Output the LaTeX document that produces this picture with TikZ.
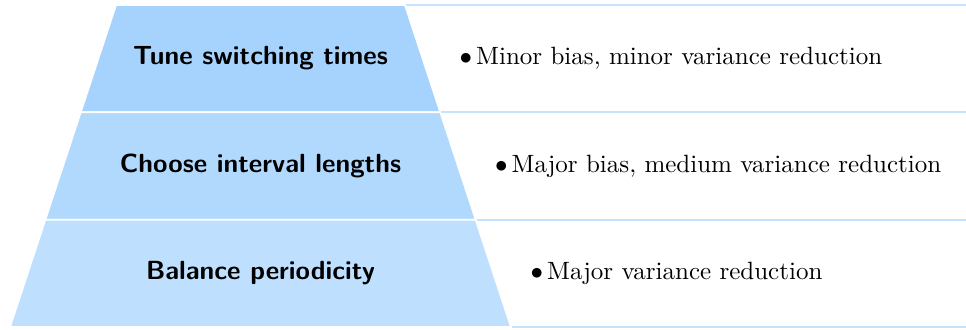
\documentclass[tikz,border=0pt]{standalone}
\usepackage{amssymb}
\definecolor{bandA}{HTML}{A6D3FD}
\definecolor{bandB}{HTML}{B1D9FD}
\definecolor{bandC}{HTML}{BEE0FE}
\definecolor{rule}{HTML}{C6E3FD}
\begin{document}
\begin{tikzpicture}[x=0.4pt,y=-0.4pt,
  band/.style={draw=white,line width=0.7pt},
  sep/.style={draw=rule,line width=0.65pt},
  lefttext/.style={font=\fontsize{10.5}{12}\selectfont\sffamily\bfseries,anchor=center,inner sep=0pt},
  righttext/.style={anchor=west,inner sep=0pt}]
\useasboundingbox (0,0) rectangle (966,329);
% corners
\coordinate (a1) at (116,5);    \coordinate (b1) at (405,5);
\coordinate (a2) at (80.7,112.3); \coordinate (b2) at (440.3,112.3);
\coordinate (a3) at (45.3,219.7); \coordinate (b3) at (475.7,219.7);
\coordinate (a4) at (10,327);   \coordinate (b4) at (511,327);
\coordinate (e1) at (966,5);
\coordinate (e2) at (966,112.3);
\coordinate (e3) at (966,219.7);
\coordinate (e4) at (966,327);
% right rules
\draw[sep] (b1) -- (e1);
\draw[sep] (b2) -- (e2);
\draw[sep] (b3) -- (e3);
\draw[sep] (b4) -- (e4);
% bands
\filldraw[band,fill=bandA] (a1) -- (b1) -- (b2) -- (a2) -- cycle;
\filldraw[band,fill=bandB] (a2) -- (b2) -- (b3) -- (a3) -- cycle;
\filldraw[band,fill=bandC] (a3) -- (b3) -- (b4) -- (a4) -- cycle;
% labels
\node[lefttext] (l1) at (260.5,58) {Tune switching times};
\node[lefttext] (l2) at (260.5,165.5) {Choose interval lengths};
\node[lefttext] (l3) at (260.5,273) {Balance periodicity};
\node[righttext] (r1) at (459,58.5) {$\bullet$\,Minor bias, minor variance reduction};
\node[righttext] (r2) at (494.5,166) {$\bullet$\,Major bias, medium variance reduction};
\node[righttext] (r3) at (530,273.5) {$\bullet$\,Major variance reduction};
\end{tikzpicture}
\end{document}
